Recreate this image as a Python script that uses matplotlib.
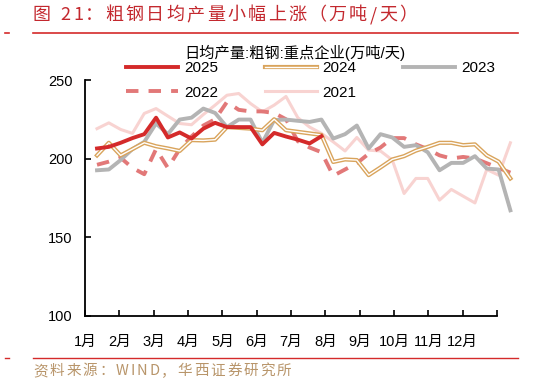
import numpy as np
import matplotlib
matplotlib.use("Agg")
import matplotlib.pyplot as plt
import matplotlib.patheffects as pe
from matplotlib.lines import Line2D

plt.rcParams['font.family'] = ['Liberation Sans', 'Noto Sans CJK SC', 'DejaVu Sans']

months = ["1月", "2月", "3月", "4月", "5月", "6月", "7月", "8月", "9月", "10月", "11月", "12月"]
series_names = ["2025", "2024", "2023", "2022", "2021"]

y2025 = [206.4, 207.4, 210, 213, 215.5, 226, 213.4, 216.6, 212.7, 219, 222.7, 220, 220, 220,
         209, 216.3, 214, 212, 209.6, 214.2]
y2024 = [202, 210, 202, 206, 210, 207.8, 206.4, 204.8, 211.7, 211.5, 212, 220, 219.5, 219, 218,
         225, 218, 217, 216, 215, 197.8, 199.4, 199, 189.4, 194.3, 199.4, 201.5, 205, 207.4,
         210, 210, 208.5, 209, 202, 198, 187.3]
y2023 = [192.5, 193, 199, 206, 210.6, 222.3, 215.5, 224.8, 226, 231.8, 229, 220, 224.8, 224.8,
         210, 224.5, 224.8, 224, 223.3, 224.8, 212.7, 215.5, 221, 206.4, 215.5, 213.4, 207.4,
         208.5, 204, 192.5, 197.2, 197.2, 201.5, 193.6, 193, 167]
y2022 = [196, 198, 200.5, 194, 190, 206, 194, 206, 214, 221, 225, 236, 231, 230, 230, 229, 225,
         211, 207, 204, 189, 193, 197, 203, 207, 213, 213, 209, 206, 202, 200, 201, 200, 197,
         194, 191]
y2021 = [219, 222.7, 218.5, 216, 228.7, 231.8, 227, 222.3, 221.5, 228, 234, 240.3, 241.4, 235,
         229.7, 234, 239.5, 226, 220, 216, 210.6, 204.8, 213.4, 205.3, 204.8, 199, 177.7, 187.3,
         187.3, 173.5, 180.3, 176, 171.7, 193, 189.4, 210]

title_text = "图 21：粗钢日均产量小幅上涨（万吨/天）"
legend_title = "日均产量:粗钢:重点企业(万吨/天)"
source_text = "资料来源：WIND，华西证券研究所"

W, H = 537, 386
fig = plt.figure(figsize=(W / 100, H / 100), dpi=100)
ax = fig.add_axes([85 / W, 1 - 315.5 / H, (497 - 85) / W, (315.5 - 80) / H])

X0, STEP = 0.35, 0.344
def xs(vals):
    return X0 + STEP * np.arange(len(vals))

red = '#d42a2a'
gold = '#d9a45c'
gray = '#b4b4b4'
dash = '#e27878'
pink = '#f8d3d1'

l21, = ax.plot(xs(y2021), y2021, color=pink, lw=2.2, clip_on=False, label="2021")
l22, = ax.plot(xs(y2022), y2022, color=dash, lw=2.8, ls=(0, (3.2, 2.6)), clip_on=False, label="2022")
l23, = ax.plot(xs(y2023), y2023, color=gray, lw=2.8, clip_on=False, label="2023")
l24, = ax.plot(xs(y2024), y2024, color='white', lw=1.0, clip_on=False, label="2024",
               path_effects=[pe.Stroke(linewidth=3.0, foreground=gold), pe.Normal()])
l25, = ax.plot(xs(y2025), y2025, color=red, lw=2.8, clip_on=False, label="2025")

ax.set_xlim(0, 12)
ax.set_ylim(100, 250)
ax.set_yticks([100, 150, 200, 250])
ax.set_xticks(np.arange(13))
ax.set_xticklabels(months + [""])
for s in ['top', 'right']:
    ax.spines[s].set_visible(False)
for s in ['left', 'bottom']:
    ax.spines[s].set_linewidth(1.3)
ax.tick_params(axis='both', direction='in', length=4, width=1.2, labelsize=10.5, colors='black')
ax.tick_params(axis='x', pad=14)
ax.tick_params(axis='y', pad=9)

handles = [l25, l22, l24, l21, l23]
leg = ax.legend(handles=handles, labels=[h.get_label() for h in handles], ncol=3, frameon=False,
                loc='upper left', bbox_to_anchor=(126 / W, 1 - 61 / H), bbox_transform=fig.transFigure,
                fontsize=11, handlelength=3.4, handletextpad=0.4, columnspacing=3.05,
                labelspacing=0.7, borderpad=0, borderaxespad=0)
fig.text(295 / W, 1 - 53 / H, legend_title, ha='center', va='center',
         fontsize=11, family=['Liberation Sans', 'Noto Sans CJK SC'])

renderer = fig.canvas.get_renderer()

def spaced_text(x_px, y_px, s, gap_px, **kw):
    x = x_px
    for ch in s:
        if ch == ' ':
            x += 5 + gap_px
            continue
        t = fig.text(x / W, 1 - y_px / H, ch, ha='left', va='center', **kw)
        w = t.get_window_extent(renderer=renderer).width
        x += w + gap_px

title_red = '#c3282e'
spaced_text(33, 15, title_text, 2.3, fontsize=13, color=title_red,
            family=['Noto Sans CJK SC', 'DejaVu Sans'])
fig.add_artist(Line2D([33 / W, 518 / W], [1 - 33 / H, 1 - 33 / H], color=red, lw=1.2,
                      transform=fig.transFigure))
fig.add_artist(Line2D([5 / W, 9 / W], [1 - 33 / H, 1 - 33 / H], color=red, lw=1.2,
                      transform=fig.transFigure))
fig.add_artist(Line2D([33 / W, 518 / W], [1 - 358 / H, 1 - 358 / H], color=red, lw=1.0,
                      transform=fig.transFigure))
fig.add_artist(Line2D([5 / W, 9 / W], [1 - 358 / H, 1 - 358 / H], color=red, lw=1.0,
                      transform=fig.transFigure))
spaced_text(33, 371, source_text, 1.9, fontsize=10.5, color='#b8956a',
            family=['Noto Sans CJK SC', 'DejaVu Sans'])

fig.savefig("out.png", dpi=100)
